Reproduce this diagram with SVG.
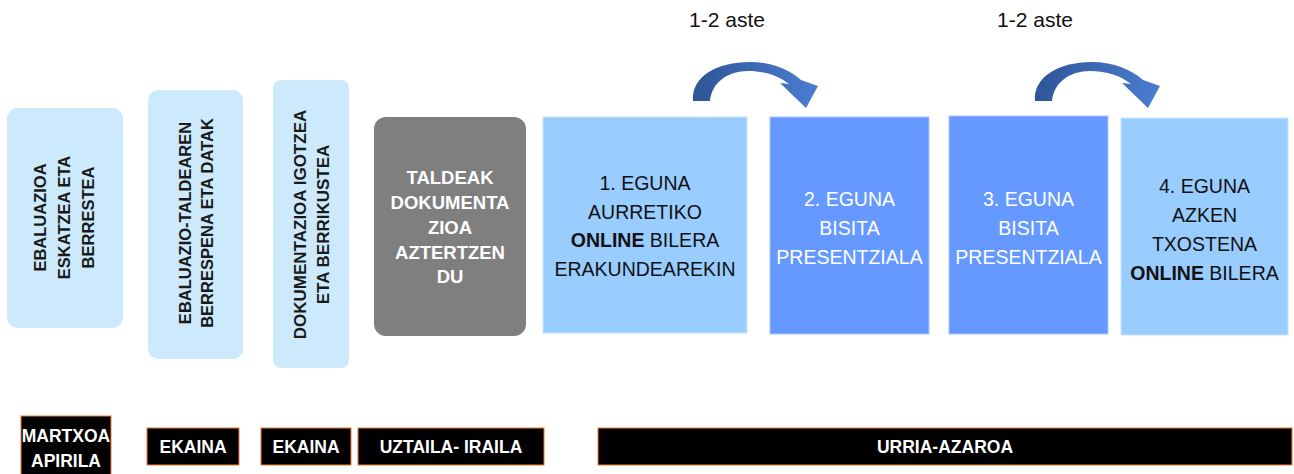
<svg xmlns="http://www.w3.org/2000/svg" xmlns:xlink="http://www.w3.org/1999/xlink" width="1294" height="474" viewBox="0 0 1294 474">
<style>
.pale{fill:#CCEAFC}
.lb{fill:#99CCFF;stroke:#C9E3FF;stroke-width:1}
.db{fill:#6699FF;stroke:#A9C6FF;stroke-width:1}
.gray{fill:#7F7F7F}
.rot{font-family:"Liberation Sans",Arial,sans-serif;font-weight:bold;font-size:16.5px;fill:#1a1a1a;text-anchor:middle}
.wb{font-family:"Liberation Sans",Arial,sans-serif;font-weight:bold;font-size:18.5px;fill:#ffffff;text-anchor:middle}
.day{font-family:"Liberation Sans",Arial,sans-serif;font-size:19.5px;text-anchor:middle}
.blk{fill:#111111}
.wht{fill:#ffffff}
.b{font-weight:bold}
.tag{fill:#000000;stroke:#ED7D31;stroke-width:1}
.tagt{font-family:"Liberation Sans",Arial,sans-serif;font-weight:bold;font-size:17.5px;fill:#ffffff;text-anchor:middle}
.lbl{font-family:"Liberation Sans",Arial,sans-serif;font-size:21px;fill:#111111;text-anchor:middle}
.arrow{fill:url(#ag)}
</style>
<defs>
<linearGradient id="ag" x1="0" y1="0" x2="1" y2="0">
<stop offset="0" stop-color="#2E5596"/>
<stop offset="1" stop-color="#4C7DD2"/>
</linearGradient>
<path id="curveArrow" d="M 693 101 C 691 78 715 62 750 62 C 772 62 790 70 801 80 L 818 86 L 806 108 L 780 83 L 789 84 C 779 76 765 71 748 71 C 728 71 712 82 710 101 Z"/>
</defs>

<g id="step1">
<rect class="pale" x="7" y="108" width="116" height="220" rx="11"/>
<text class="rot" transform="translate(64,217.5) rotate(-90)"><tspan x="0" y="-18">EBALUAZIOA</tspan><tspan x="0" y="5.5">ESKATZEA ETA</tspan><tspan x="0" y="30">BERRESTEA</tspan></text>
</g>

<g id="step2">
<rect class="pale" x="148" y="90" width="95" height="269" rx="10"/>
<text class="rot" transform="translate(196,223) rotate(-90)"><tspan x="0" y="-5.5">EBALUAZIO-TALDEAREN</tspan><tspan x="0" y="17">BERRESPENA ETA DATAK</tspan></text>
</g>

<g id="step3">
<rect class="pale" x="273" y="80" width="76" height="288" rx="8"/>
<text class="rot" style="font-size:17px" transform="translate(311,224.5) rotate(-90)"><tspan x="0" y="-5.5">DOKUMENTAZIOA IGOTZEA</tspan><tspan x="0" y="17.5">ETA BERRIKUSTEA</tspan></text>
</g>

<g id="step4">
<rect class="gray" x="374" y="117" width="152" height="219" rx="12"/>
<text class="wb"><tspan x="450" y="183.5">TALDEAK</tspan><tspan x="450" y="209">DOKUMENTA</tspan><tspan x="450" y="233.5">ZIOA</tspan><tspan x="450" y="258.5">AZTERTZEN</tspan><tspan x="450" y="283">DU</tspan></text>
</g>

<g id="day1">
<rect class="lb" x="543" y="117" width="204" height="216"/>
<text class="day blk"><tspan x="645" y="190">1. EGUNA</tspan><tspan x="645" y="219">AURRETIKO</tspan><tspan x="645" y="247"><tspan class="b">ONLINE</tspan> BILERA</tspan><tspan x="645" y="276">ERAKUNDEAREKIN</tspan></text>
</g>

<g id="day2">
<rect class="db" x="770" y="117" width="159" height="217"/>
<text class="day wht"><tspan x="849.5" y="206">2. EGUNA</tspan><tspan x="849.5" y="235">BISITA</tspan><tspan x="849.5" y="264">PRESENTZIALA</tspan></text>
</g>

<g id="day3">
<rect class="db" x="949" y="116" width="159" height="218"/>
<text class="day wht"><tspan x="1028.5" y="206">3. EGUNA</tspan><tspan x="1028.5" y="235">BISITA</tspan><tspan x="1028.5" y="264">PRESENTZIALA</tspan></text>
</g>

<g id="day4">
<rect class="lb" x="1121" y="118" width="167" height="217"/>
<text class="day blk"><tspan x="1204.5" y="193">4. EGUNA</tspan><tspan x="1204.5" y="222">AZKEN</tspan><tspan x="1204.5" y="251">TXOSTENA</tspan><tspan x="1204.5" y="280"><tspan class="b">ONLINE</tspan> BILERA</tspan></text>
</g>

<g id="connectors">
<use xlink:href="#curveArrow" href="#curveArrow" class="arrow"/>
<use xlink:href="#curveArrow" href="#curveArrow" class="arrow" transform="translate(342,0)"/>
<text class="lbl" x="727" y="27">1-2 aste</text>
<text class="lbl" x="1035" y="27">1-2 aste</text>
</g>

<g id="tag-martxoa">
<rect class="tag" x="21" y="416" width="90" height="60"/>
<text class="tagt"><tspan x="66" y="441.5">MARTXOA</tspan><tspan x="66" y="466.5">APIRILA</tspan></text>
</g>
<g id="tag-ekaina1">
<rect class="tag" x="147" y="428" width="92" height="37"/>
<text class="tagt" x="193" y="453">EKAINA</text>
</g>
<g id="tag-ekaina2">
<rect class="tag" x="261" y="428" width="90" height="37"/>
<text class="tagt" x="306" y="453">EKAINA</text>
</g>
<g id="tag-uztaila">
<rect class="tag" x="358" y="428" width="186" height="37"/>
<text class="tagt" x="451" y="453">UZTAILA- IRAILA</text>
</g>
<g id="tag-urria">
<rect class="tag" x="598" y="428" width="694" height="37"/>
<text class="tagt" x="945" y="453">URRIA-AZAROA</text>
</g>
</svg>
